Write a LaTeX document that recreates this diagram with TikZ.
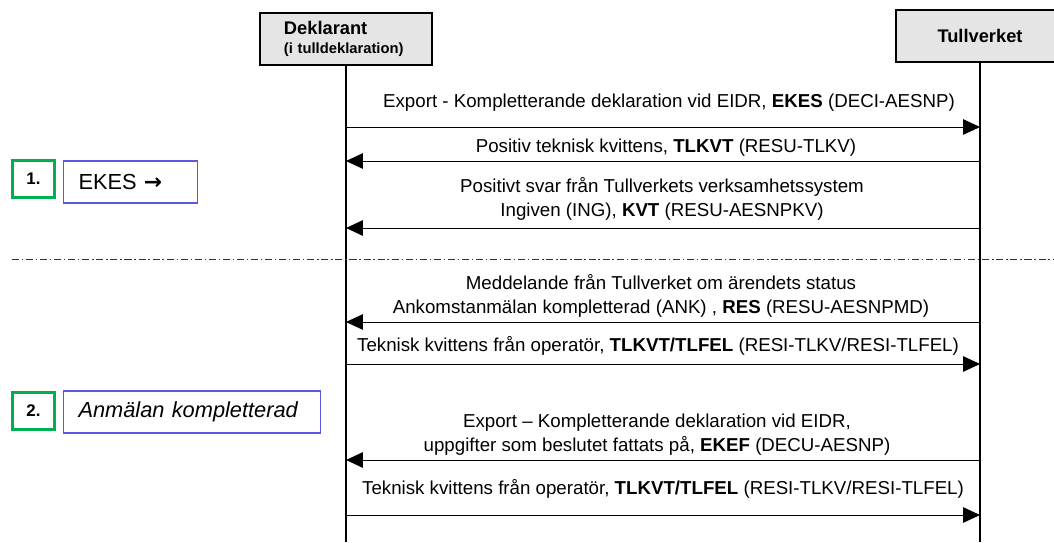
\documentclass[tikz,border=0pt]{standalone}
\usepackage{fontspec}
\setmainfont{Liberation Sans}
\newfontfamily\arrowfont{DejaVu Sans}
\usetikzlibrary{arrows.meta}

\definecolor{stepgreen}{RGB}{0,176,80}
\definecolor{phaseblue}{RGB}{90,90,225}

\begin{document}
\begin{tikzpicture}[x=0.025cm,y=-0.025cm,
  actor/.style={draw,line width=1.4pt,fill=black!10,minimum width=4.3cm,minimum height=1.3cm,inner sep=0pt},
  lifeline/.style={line width=1pt},
  msg/.style={line width=0.7pt,-{Triangle[length=12pt,width=11pt]}},
  lbl/.style={font=\fontsize{13.3}{17}\selectfont,align=center,inner sep=0pt},
  stepnum/.style={draw=stepgreen,line width=1.6pt,font=\bfseries\fontsize{12}{14}\selectfont,minimum width=1.05cm,minimum height=0.92cm},
  phase/.style={draw=phaseblue,line width=0.8pt,font=\fontsize{15.5}{18}\selectfont,anchor=west,align=left,inner xsep=0.375cm,minimum height=1.05cm}]

  \useasboundingbox (0,0) rectangle (1054,542);

  % actors
  \node[actor,text width=3.1cm,align=left] (deklarant) at (346,39)
    {{\bfseries\fontsize{13}{15}\selectfont Deklarant}\\[1pt]{\bfseries\fontsize{10.5}{12}\selectfont(i tulldeklaration)}};
  \node[actor,minimum width=4.2cm,font=\bfseries\fontsize{13}{15}\selectfont] (tullverket) at (980,36) {Tullverket};

  % lifelines
  \coordinate (dbottom) at (346,542);
  \coordinate (tbottom) at (980,542);
  \draw[lifeline] (deklarant) -- (dbottom);
  \draw[lifeline] (tullverket) -- (tbottom);

  % messages
  \foreach \n/\y in {1/127,2/161,3/228,4/322,5/364,6/460,7/515}
  { \coordinate (d\n) at (346,\y);
    \coordinate (t\n) at (980,\y); }

  \draw[msg] (d1) -- (t1);
  \node[lbl] (m1) at (669,103) {Export - Kompletterande deklaration vid EIDR, \textbf{EKES} (DECI-AESNP)};

  \draw[msg] (t2) -- (d2);
  \node[lbl] (m2) at (666,148) {Positiv teknisk kvittens, \textbf{TLKVT} (RESU-TLKV)};

  \draw[msg] (t3) -- (d3);
  \node[lbl] (m3) at (662,199) {Positivt svar från Tullverkets verksamhetssystem\\Ingiven (ING), \textbf{KVT} (RESU-AESNPKV)};

  % phase separator
  \coordinate (sepl) at (12,259);
  \coordinate (sepr) at (1054,259);
  \draw[black!80,line width=0.7pt,dash pattern=on 5pt off 2pt on 1pt off 2pt] (sepl) -- (sepr);

  \draw[msg] (t4) -- (d4);
  \node[lbl] (m4) at (661,296) {Meddelande från Tullverket om ärendets status\\Ankomstanmälan kompletterad (ANK) , \textbf{RES} (RESU-AESNPMD)};

  \draw[msg] (d5) -- (t5);
  \node[lbl] (m5) at (658,346) {Teknisk kvittens från operatör, \textbf{TLKVT/TLFEL} (RESI-TLKV/RESI-TLFEL)};

  \draw[msg] (t6) -- (d6);
  \node[lbl] (m6) at (657,435) {Export -- Kompletterande deklaration vid EIDR,\\uppgifter som beslutet fattats på, \textbf{EKEF} (DECU-AESNP)};

  \draw[msg] (d7) -- (t7);
  \node[lbl] (m7) at (663,489) {Teknisk kvittens från operatör, \textbf{TLKVT/TLFEL} (RESI-TLKV/RESI-TLFEL)};

  % steps
  \node[stepnum] (s1) at (33.5,179) {1.};
  \node[phase,text width=2.6cm] (p1) at (63,182) {EKES {\arrowfont\bfseries →}};
  \node[stepnum] (s2) at (33.5,411) {2.};
  \node[phase,text width=5.675cm,font=\itshape\fontsize{15.5}{18}\selectfont] (p2) at (63,412) {Anmälan kompletterad};
\end{tikzpicture}
\end{document}
